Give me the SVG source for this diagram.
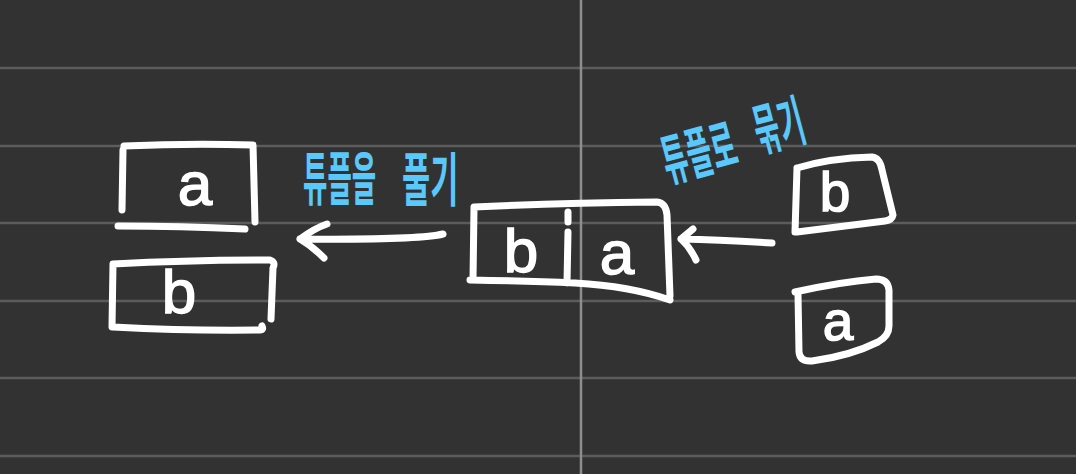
<svg xmlns="http://www.w3.org/2000/svg" width="1076" height="474" viewBox="0 0 1076 474">
<style>
.grid{stroke:#5c5c5c;stroke-width:2.5}
.vgrid{stroke:#8e8e8e;stroke-width:2.5}
.ink{fill:none;stroke:#ffffff;stroke-width:7;stroke-linecap:round;stroke-linejoin:round}
.lbl{font-family:"Liberation Sans","DejaVu Sans",sans-serif;fill:#ffffff;stroke:#ffffff;stroke-width:1.5;text-anchor:middle}
.ko{font-family:"Noto Sans CJK KR","Noto Sans",sans-serif;font-weight:700;fill:#5ac8fa;font-size:34px}
</style>
<rect width="1076" height="474" fill="#323232"/>
<g id="grid">
<line class="grid" x1="0" y1="68" x2="1076" y2="68"/>
<line class="grid" x1="0" y1="146" x2="1076" y2="146"/>
<line class="grid" x1="0" y1="223" x2="1076" y2="223"/>
<line class="grid" x1="0" y1="301" x2="1076" y2="301"/>
<line class="grid" x1="0" y1="378" x2="1076" y2="378"/>
<line class="grid" x1="0" y1="456" x2="1076" y2="456"/>
<line class="vgrid" x1="581" y1="0" x2="581" y2="474"/>
</g>
<g id="node-left-a">
<path class="ink" d="M123 150 L122 210 M124 146 Q190 143 253 145 L255 222 M118 226 Q180 226 245 229"/>
<text class="lbl" x="195" y="205" font-size="62">a</text>
</g>
<g id="node-left-b">
<path class="ink" d="M113 264 L112 327 M113 264 Q190 260 270 260 Q276 262 273 268 L271 319 M113 327 Q190 331 260 330 Q264 330 262 326"/>
<text class="lbl" x="179" y="313" font-size="62">b</text>
</g>
<g id="node-tuple">
<path class="ink" d="M474 208 L473 280 M474 207 Q560 203 657 202 Q666 203 667 215 L670 296 M470 280 Q530 281 575 283 Q630 286 670 300 M568 212 L568 222 M568 232 L567 283"/>
<text class="lbl" x="521" y="272" font-size="62">b</text>
<text class="lbl" x="617" y="274" font-size="62">a</text>
</g>
<g id="node-right-b">
<path class="ink" d="M797 168 L795 232 M797 168 Q830 158 872 157 Q880 158 882 170 L893 215 Q892 220 885 221 L797 232"/>
<text class="lbl" x="835" y="211" font-size="55">b</text>
</g>
<g id="node-right-a">
<path class="ink" d="M795 292 Q840 282 876 279 Q888 279 889 290 L889 326 Q889 336 878 342 Q850 356 812 361 Q800 362 799 352 L798 294"/>
<text class="lbl" x="838" y="340" font-size="55">a</text>
</g>
<g id="connectors">
<path class="ink" d="M443 234 Q420 240 300 239 M300 239 Q315 228 327 224 M300 239 Q312 246 324 258"/>
<path class="ink" d="M772 243 Q720 240 681 239 M681 239 L693 229 M681 239 Q690 247 696 260"/>
</g>
<g id="label-unpack">
<text class="ko" transform="translate(303,200) scale(0.78,1.72)">튜플을</text>
<text class="ko" transform="translate(402,201) scale(0.9,1.72)">풀기</text>
</g>
<g id="label-pack">
<text class="ko" transform="translate(668,182) rotate(-15) scale(0.8,1.65)">튜플로</text>
<text class="ko" transform="translate(760,152) rotate(-15) scale(0.8,1.65)">묶기</text>
</g>
</svg>
